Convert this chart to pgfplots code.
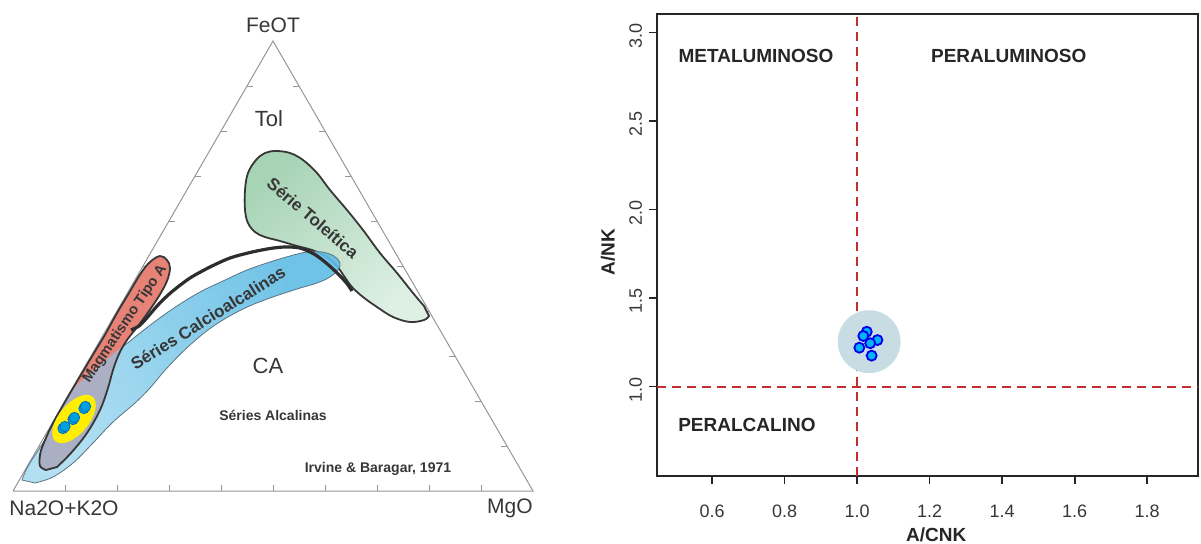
\documentclass[border=0pt]{standalone}
\usepackage{pgfplots}
\pgfplotsset{compat=1.18}
\usepackage{fontspec}
\setmainfont{Liberation Sans}
\definecolor{txt}{RGB}{55,55,55}
\definecolor{tri}{RGB}{150,150,150}
\definecolor{grnA}{RGB}{168,212,182}
\definecolor{grnB}{RGB}{222,240,228}
\definecolor{bluA}{RGB}{95,188,228}
\definecolor{bluB}{RGB}{170,220,240}
\definecolor{redf}{RGB}{230,130,118}
\definecolor{grayf}{RGB}{170,175,195}
\definecolor{outl}{RGB}{55,55,55}
\definecolor{ylw}{RGB}{255,238,0}
\definecolor{dotf}{RGB}{0,160,225}
\definecolor{dotd}{RGB}{0,110,190}
\definecolor{dashc}{RGB}{195,45,45}
\definecolor{halo}{RGB}{200,220,228}
\definecolor{ptf}{RGB}{0,180,250}
\definecolor{ptd}{RGB}{0,0,235}
\pgfdeclareplotmark{yell}{%
  \pgfpathellipse{\pgfpointorigin}{\pgfpoint{9.3pt}{11.1pt}}{\pgfpoint{-5.7pt}{4.8pt}}%
  \pgfusepathqfill}
\begin{document}
\begin{tikzpicture}
\path[use as bounding box] (0,0) rectangle (600.5pt,271.5pt);
% ---------------- left: AFM ternary ----------------
\begin{axis}[at={(0pt,0pt)}, anchor=south west, scale only axis,
  width=280pt, height=271.5pt, xmin=0, xmax=560, ymin=0, ymax=543,
  y dir=reverse, hide axis, clip=false, unbounded coords=jump]
% triangle
\addplot[tri, line width=0.5pt] coordinates {(13,491) (533,491) (273,41) (13,491)};
% ticks
\addplot[tri, line width=0.5pt] coordinates {
 (65,491)(65,485) (nan,nan) (117,491)(117,485) (nan,nan) (169,491)(169,485) (nan,nan)
 (221,491)(221,485) (nan,nan) (273,491)(273,485) (nan,nan) (325,491)(325,485) (nan,nan)
 (377,491)(377,485) (nan,nan) (429,491)(429,485) (nan,nan) (481,491)(481,485) (nan,nan)
 (247,86)(253,86) (nan,nan) (221,131)(227,131) (nan,nan) (195,176)(201,176) (nan,nan)
 (169,221)(175,221) (nan,nan) (143,266)(149,266) (nan,nan) (117,311)(123,311) (nan,nan)
 (91,356)(97,356) (nan,nan) (65,401)(71,401) (nan,nan) (39,446)(45,446) (nan,nan)
 (299,86)(293,86) (nan,nan) (325,131)(319,131) (nan,nan) (351,176)(345,176) (nan,nan)
 (377,221)(371,221) (nan,nan) (403,266)(397,266) (nan,nan) (429,311)(423,311) (nan,nan)
 (455,356)(449,356) (nan,nan) (481,401)(475,401) (nan,nan) (507,446)(501,446)};
% green field (Serie Toleitica)
\addplot[smooth, tension=0.6, draw=outl, line width=0.9pt, top color=grnA, bottom color=grnB, shading angle=40]
 coordinates {(429,316) (424,320) (410,322) (393,317) (377,307) (363,297) (352,287) (344,276)
 (336,265) (325,256) (312,250) (297,246) (280,241) (265,237) (255,232) (248,223) (245,210)
 (245,190) (248,173) (256,160) (265,153) (276,151) (290,153) (303,160) (317,173) (330,190)
 (347,210) (363,230) (380,253) (397,273) (413,293) (424,306)} -- cycle;
% blue field (Series Calcioalcalinas)
\addplot[smooth, tension=0.6, draw={rgb,255:red,90;green,115;blue,130}, line width=0.4pt,
 top color=bluB, middle color=bluA, bottom color=bluA, shading angle=120, fill opacity=0.9]
 coordinates {(22,480) (27,468) (37,452) (50,432) (62,412) (75,393) (90,375) (108,357)
 (125,345) (140,333) (157,320) (177,306) (200,292) (223,281) (247,270) (270,262) (290,256)
 (307,252) (322,252) (334,256) (340,263) (338,270) (330,277) (317,283) (297,289) (270,298)
 (243,309) (215,325) (190,345) (167,368) (150,388) (135,403) (113,422) (93,443) (73,463)
 (53,477) (35,483)} -- cycle;
% red field (Magmatismo Tipo A)
\addplot[smooth, tension=0.6, draw=none, fill=redf]
 coordinates {(46,470) (40,466) (40,455) (43,445) (51,427) (62,407) (76,383) (94,353) (106,333)
 (117,313) (129,293) (141,273) (150,262) (160,256) (167,260) (170,268) (167,281) (159,296)
 (149,311) (138,326) (127,340) (119,354) (113,370) (108,388) (100,410) (87,433) (71,453)
 (57,467)} -- cycle;
% overlap of red and blue (grey)
\addplot[smooth, tension=0.6, draw=none, fill=grayf]
 coordinates {(46,470) (40,466) (40,455) (43,445) (51,427) (62,407) (73,389) (86,377) (100,365)
 (113,354) (122,347) (119,354) (113,370) (108,388) (100,410) (87,433) (71,453) (57,467)} -- cycle;
\addplot[smooth, tension=0.6, draw=outl, line width=0.9pt]
 coordinates {(46,470) (40,466) (40,455) (43,445) (51,427) (62,407) (76,383) (94,353) (106,333)
 (117,313) (129,293) (141,273) (150,262) (160,256) (167,260) (170,268) (167,281) (159,296)
 (149,311) (138,326) (127,340) (119,354) (113,370) (108,388) (100,410) (87,433) (71,453)
 (57,467)} -- cycle;
% Irvine & Baragar boundary
\addplot[smooth, draw={rgb,255:red,45;green,45;blue,45}, line width=1.6pt]
 coordinates {(131,330) (139,326) (145,320) (151,313) (158,305) (166,297) (174,290) (190,278)
 (210,267) (230,258) (250,252.5) (270,248.5) (285,247) (300,248) (314,254) (325,262)
 (334,270) (343,279) (348,285) (352,291)};
% yellow field and samples
\addplot[only marks, mark=yell, color=ylw] coordinates {(74,419)};
\addplot[only marks, mark=*, mark size=2.6pt, mark options={fill=dotf, draw=dotd, line width=0.4pt}]
 coordinates {(63,428.5) (65,426.5) (73,419.5) (74.5,417.5) (84,408.5) (85.5,406.5)};
% labels
\node[text=txt, font=\fontsize{10.5}{12}\selectfont] at (axis cs:273,25) {FeOT};
\node[text=txt, font=\fontsize{10.5}{12}\selectfont] at (axis cs:64,508) {Na2O+K2O};
\node[text=txt, font=\fontsize{10.5}{12}\selectfont] at (axis cs:510,508) {MgO};
\node[text=txt, font=\fontsize{11}{12}\selectfont] at (axis cs:269,119) {Tol};
\node[text=txt, font=\fontsize{11}{12}\selectfont] at (axis cs:268,366) {CA};
\node[text=txt, font=\bfseries\fontsize{7}{8}\selectfont] at (axis cs:273,415) {Séries Alcalinas};
\node[text=txt, font=\bfseries\fontsize{7}{8}\selectfont] at (axis cs:378,469) {Irvine \& Baragar, 1971};
\node[text=txt, font=\bfseries\fontsize{8.5}{9}\selectfont, rotate=-40.5] at (axis cs:313,218) {Série Toleítica};
\node[text=txt, font=\bfseries\fontsize{8.5}{9}\selectfont, rotate=32] at (axis cs:208,318) {Séries Calcioalcalinas};
\node[text=txt, font=\bfseries\fontsize{7.3}{8}\selectfont, rotate=56] at (axis cs:125,324) {Magmatismo Tipo A};
\end{axis}
% ---------------- right: Shand ----------------
\begin{axis}[at={(328.5pt,33.5pt)}, anchor=south west, scale only axis,
  width=270.5pt, height=231pt,
  xmin=0.448, xmax=1.94, ymin=0.495, ymax=3.105,
  axis line style={line width=0.8pt, black!85},
  xtick={0.6,0.8,1.0,1.2,1.4,1.6,1.8}, ytick={1,1.5,2,2.5,3},
  xticklabels={0.6,0.8,1.0,1.2,1.4,1.6,1.8}, yticklabels={1.0,1.5,2.0,2.5,3.0},
  tick align=outside, major tick length=4pt,
  tick style={line width=0.8pt, black!85},
  xtick pos=bottom, ytick pos=left,
  ticklabel style={font=\fontsize{9}{10}\selectfont, text=txt},
  xticklabel style={anchor=north, yshift=-6.8pt},
  yticklabel style={rotate=90, anchor=south, xshift=-1.5pt},
  xlabel={A/CNK}, ylabel={A/NK},
  label style={font=\bfseries\fontsize{9.5}{10}\selectfont, text=black!85},
  xlabel style={at={(axis description cs:0.516,-0.1277)}, anchor=center},
  ylabel style={at={(axis description cs:-0.0906,0.485)}, anchor=center},
]
\addplot[only marks, mark=*, mark size=15.5pt, color=halo] coordinates {(1.033,1.254)};
\addplot[dashc, line width=0.9pt, dash pattern=on 4.5pt off 3pt] coordinates {(1,0.495) (1,3.105)};
\addplot[dashc, line width=0.9pt, dash pattern=on 4.5pt off 3pt] coordinates {(0.448,1) (1.94,1)};
\addplot[only marks, mark=*, mark size=2.5pt, mark options={fill=ptf, draw=ptd, line width=0.9pt}]
 coordinates {(1.0265,1.310) (1.017,1.286) (1.056,1.263) (1.036,1.245) (1.006,1.220) (1.040,1.175)};
\node[text=black!85, font=\bfseries\fontsize{9.5}{10}\selectfont] at (axis cs:0.721,2.87) {METALUMINOSO};
\node[text=black!85, font=\bfseries\fontsize{9.5}{10}\selectfont] at (axis cs:1.418,2.87) {PERALUMINOSO};
\node[text=black!85, font=\bfseries\fontsize{9.5}{10}\selectfont] at (axis cs:0.696,0.785) {PERALCALINO};
\end{axis}
\end{tikzpicture}
\end{document}
